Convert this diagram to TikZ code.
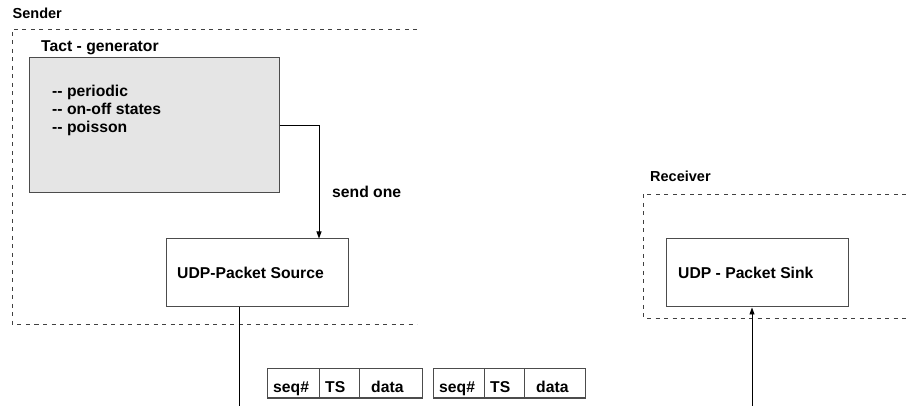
\documentclass[tikz,border=0pt]{standalone}
\usepackage{fontspec}
\setmainfont{Liberation Sans}
\usetikzlibrary{arrows.meta}
% two separate hyphens, kept apart from the en-dash ligature
\newcommand\dashpair{-\kern0pt-}
\begin{document}
\begin{tikzpicture}[x=1pt,y=-1pt,
  txt/.style={font=\bfseries\fontsize{15.7}{18}\selectfont, inner sep=0pt, anchor=base west},
  head/.style={font=\bfseries\fontsize{14.5}{17}\selectfont, inner sep=0pt, anchor=base west},
  frame/.style={draw=black!75, dash pattern=on 4pt off 4.5pt, line width=0.9pt},
  block/.style={draw=black!70, line width=1pt, inner sep=0pt},
  wire/.style={draw=black, line width=0.9pt},
  tip/.style={-{Triangle[length=7pt,width=5pt]}},
  cell/.style={draw=black!70, line width=1pt, inner sep=0pt, minimum height=29pt},
]
\useasboundingbox (0,0) rectangle (906,406);
\fill[white] (0,0) rectangle (906,406);

% ---- sender side ----
\node[head] (sendlbl) at (12.5,18.5) {Sender};
\draw[frame] (417,29) -- (12,29) -- (12,324) -- (417,324);

\node[txt] (genlbl) at (41,52) {Tact - generator};
\node[block, fill=black!10, minimum width=250pt, minimum height=135pt] (gen) at (154,125.5) {};
\node[txt] (mode1) at (52,97) {\dashpair\ periodic};
\node[txt] (mode2) at (52,115) {\dashpair\ on-off states};
\node[txt] (mode3) at (52,133) {\dashpair\ poisson};

\node[block, minimum width=182pt, minimum height=68pt] (src) at (257,273) {};
\node[txt] (srclbl) at (177,279) {UDP-Packet Source};

\draw[wire,tip] (gen.east) -| ([xshift=62pt]src.north);
\node[txt] (sendone) at (332,198) {send one};

\coordinate (srcout) at (239,406);
\draw[wire] ([xshift=-18pt]src.south) -- (srcout);

% ---- packets on the wire ----
\node[cell, minimum width=52pt] (seqA) at (293,383.5) {};
\node[cell, minimum width=40pt] (tsA) at (339,383.5) {};
\node[cell, minimum width=63pt] (dataA) at (390.5,383.5) {};
\node[txt] (seqAt) at (273,392) {seq\#};
\node[txt] (tsAt) at (325,392) {TS};
\node[txt] (dataAt) at (371,392) {data};

\node[cell, minimum width=51pt] (seqB) at (458.5,383.5) {};
\node[cell, minimum width=40pt] (tsB) at (504,383.5) {};
\node[cell, minimum width=61pt] (dataB) at (554.5,383.5) {};
\node[txt] (seqBt) at (439,392) {seq\#};
\node[txt] (tsBt) at (490,392) {TS};
\node[txt] (dataBt) at (536,392) {data};

% ---- receiver side ----
\node[head] (recvlbl) at (650,182) {Receiver};
\draw[frame] (906,194) -- (643,194) -- (643,318) -- (906,318);

\node[block, minimum width=182pt, minimum height=68pt] (sink) at (757,273) {};
\node[txt] (sinklbl) at (678,279) {UDP - Packet Sink};

\coordinate (sinkin) at (752,406);
\draw[wire,tip] (sinkin) -- ([xshift=-5pt]sink.south);
\end{tikzpicture}
\end{document}
